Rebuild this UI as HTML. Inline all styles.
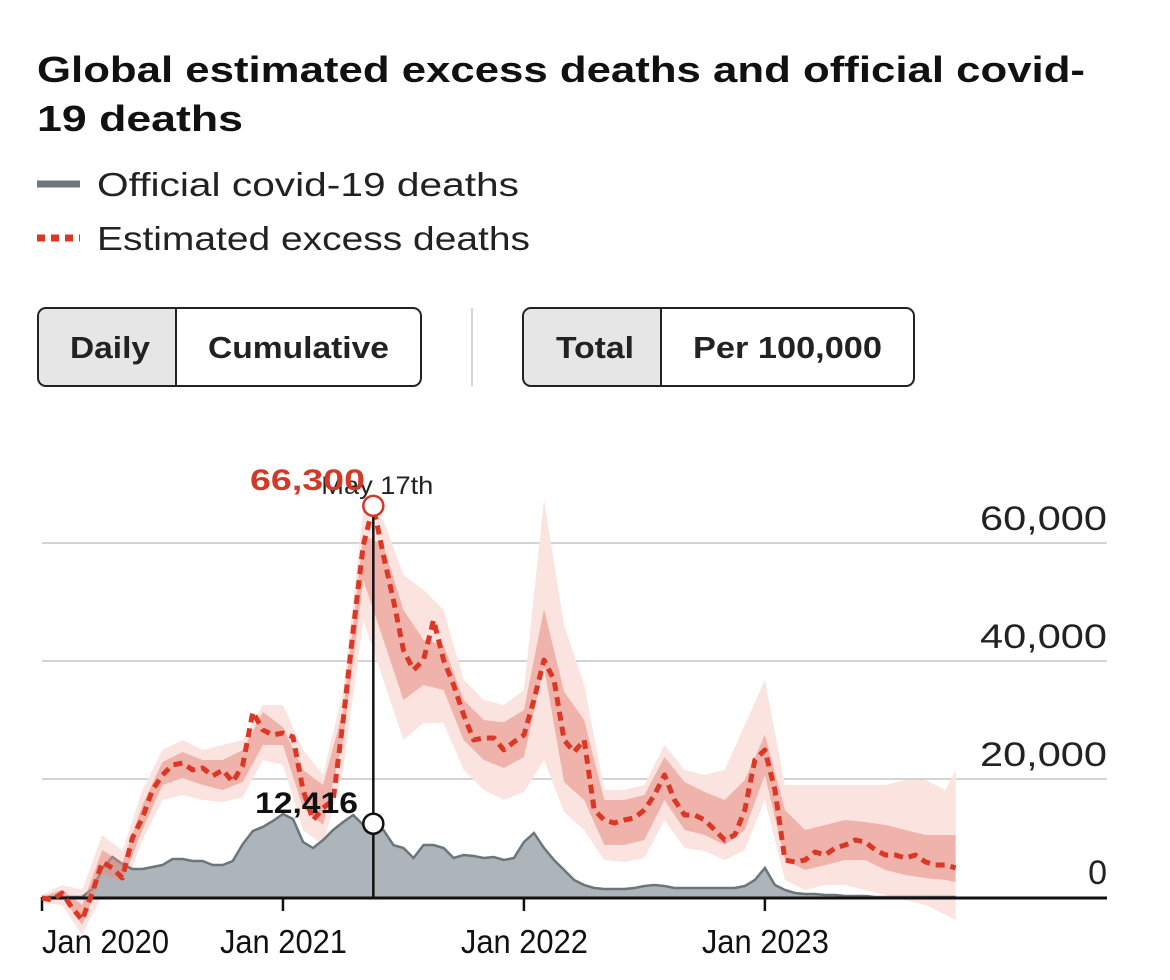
<!DOCTYPE html>
<html><head><meta charset="utf-8"><style>
html,body{margin:0;padding:0;background:#fff}
svg{display:block;font-family:"Liberation Sans",sans-serif}
</style></head><body>
<svg id="chart" width="1170" height="980" viewBox="0 0 1170 980">
<g>
<text x="37" y="82" font-size="36" font-weight="bold" fill="#111" textLength="1048" lengthAdjust="spacingAndGlyphs">Global estimated excess deaths and official covid-</text>
<text x="37" y="131" font-size="36" font-weight="bold" fill="#111" textLength="206" lengthAdjust="spacingAndGlyphs">19 deaths</text>
<line x1="37" y1="184" x2="80" y2="184" stroke="#6f777d" stroke-width="7"/>
<text x="97" y="196" font-size="33" fill="#222" textLength="422" lengthAdjust="spacingAndGlyphs">Official covid-19 deaths</text>
<line x1="37" y1="238" x2="80" y2="238" stroke="#db3725" stroke-width="7" stroke-dasharray="8,6"/>
<text x="97" y="250" font-size="33" fill="#222" textLength="433" lengthAdjust="spacingAndGlyphs">Estimated excess deaths</text>
</g>
<g>
<path d="M46 309 H176 V385 H46 A7 7 0 0 1 39 378 V316 A7 7 0 0 1 46 309 Z" fill="#e6e6e6"/>
<line x1="176" y1="308" x2="176" y2="386" stroke="#222" stroke-width="2"/>
<rect x="38" y="308" width="383" height="78" rx="8" fill="none" stroke="#222" stroke-width="2"/>
<text x="70" y="358" font-size="31" font-weight="bold" fill="#222" textLength="80" lengthAdjust="spacingAndGlyphs">Daily</text>
<text x="208" y="358" font-size="31" font-weight="bold" fill="#222" textLength="181" lengthAdjust="spacingAndGlyphs">Cumulative</text>
</g>
<line x1="472" y1="308" x2="472" y2="386" stroke="#d6d6d6" stroke-width="2"/>
<g>
<path d="M531 309 H661 V385 H531 A7 7 0 0 1 524 378 V316 A7 7 0 0 1 531 309 Z" fill="#e6e6e6"/>
<line x1="661" y1="308" x2="661" y2="386" stroke="#222" stroke-width="2"/>
<rect x="523" y="308" width="391" height="78" rx="8" fill="none" stroke="#222" stroke-width="2"/>
<text x="556" y="358" font-size="31" font-weight="bold" fill="#222" textLength="78" lengthAdjust="spacingAndGlyphs">Total</text>
<text x="693" y="358" font-size="31" font-weight="bold" fill="#222" textLength="189" lengthAdjust="spacingAndGlyphs">Per 100,000</text>
</g>
<g id="plot"></g>
</svg>
<script>
// months since Jan 2020
const bandMonths = [0,1,2,3,4,5,6,7,8,9,10,11,12,13,14,15,16,17,18,19,20,21,22,23,24,25,26,27,28,29,30,31,32,33,34,35,36,37,38,39,40,41,42,43,44,45,45.5];
const upper95 = [340,2030,1190,10510,7800,18140,24920,26620,24920,25770,26620,32550,32550,24920,20680,35090,65600,63900,54580,52040,48650,36780,33390,32550,35090,67300,46100,35940,18140,18140,18990,25770,21530,20680,21530,29160,36780,18990,18990,18990,18990,18990,18990,19830,19830,18140,21530];
const upper50 = [0,1190,-1360,7970,5760,15600,22880,24580,23220,23220,24920,31360,28800,21530,18990,31700,61350,59660,48650,43570,42720,33390,29990,29610,31700,48800,34780,29990,16440,16440,17290,23730,19490,17800,16440,19830,27460,14750,11360,12200,13050,12710,12200,11360,10510,10510,10510];
const lower50 = [-510,0,-4750,3730,2710,11360,18990,20170,18990,18140,19490,25770,25770,15090,12200,26620,53740,43570,33390,35940,35090,26620,23220,21870,23730,39000,19490,16440,8810,8810,9660,16440,11360,10510,8810,11360,20680,6270,4580,5420,6270,6270,4580,3730,3220,2880,2540];
const lower95 = [-1020,-1360,-6440,340,340,9660,16440,17290,16440,16100,16950,23220,22370,11360,8810,21530,46950,36780,26620,29490,29490,21530,18140,16440,17800,23220,14410,11360,6270,5930,6610,13050,8300,7800,6270,7970,16440,2880,1190,2030,2030,1190,340,-510,-1360,-3050,-3900];

const halfMonths = [];
for (let i = 0; i < 92; i++) halfMonths.push(i * 0.5);
const excessDeaths = [-170,-510,680,-1860,-3900,680,5930,4920,3220,10000,13390,18140,20680,22370,22710,21530,21870,20510,21530,19490,22370,31360,28300,27460,27800,27120,18140,13050,15090,16440,30000,45260,59660,66300,57970,50340,41860,38470,40170,46950,40170,35940,30850,26620,26950,26950,24920,26280,27460,33390,40170,36780,26620,24580,26620,14750,13050,12540,13050,13390,14750,17290,20680,16440,13900,13900,13050,11360,9660,10510,14750,23220,24920,18140,6270,5930,6270,7630,7120,8300,8810,9660,9320,7970,7120,7120,6610,7120,5930,5420,5420,4920];
const officialDeaths = [0,0,0,0,0,1360,4750,6780,5590,4750,4750,5090,5420,6440,6440,6100,6100,5420,5420,6100,8980,11190,11870,12880,14070,13220,9320,8300,9660,11360,12710,13900,12200,12416,11360,8810,8300,6610,8810,8810,8300,6610,7120,6950,6610,6780,6270,6610,9320,10850,8300,6270,4580,2880,2030,1530,1360,1360,1360,1530,1860,2030,1860,1530,1530,1530,1530,1530,1530,1530,1860,2880,4920,2030,1190,680,510,510,340,340,170,170,170,0,0,0,0,0,0,0,0,0];
const yTicks = [0,20000,40000,60000];
const yTickLabels = ["0","20,000","40,000","60,000"];
const xTicks = [0,12,24,36];
const xTickLabels = ["Jan 2020","Jan 2021","Jan 2022","Jan 2023"];
const peakMonth = 16.5, peakValue = 66300, peakLabel = "66,300", peakDate = "May 17th";
const officialAtPeak = 12416, officialLabel = "12,416";

const NS = "http://www.w3.org/2000/svg";
const x = m => 42 + m * 20.08;
const y = v => 897 - v / 20000 * 118;
const plot = document.getElementById('plot');
function mk(tag, attrs, parent) {
  const e = document.createElementNS(NS, tag);
  for (const k in attrs) e.setAttribute(k, attrs[k]);
  (parent || plot).appendChild(e);
  return e;
}
yTicks.forEach((v, i) => {
  if (v !== 0) {
    const g = mk('line', {x1: 42, x2: 1107, y1: y(v), y2: y(v), stroke: '#d4d4d4', 'stroke-width': 2});
    
    
  }
  const lab = yTickLabels[i];
  const attrs = {x: 1107, y: y(v) - 13, 'text-anchor': 'end', 'font-size': 34, fill: '#222'};
  if (lab.length > 1) { attrs.textLength = 127; attrs.lengthAdjust = 'spacingAndGlyphs'; }
  const t = mk('text', attrs);
  t.textContent = lab;
  
  
});
function band(up, lo, fill, name) {
  let d = '';
  bandMonths.forEach((m, i) => { d += (i ? 'L' : 'M') + x(m) + ' ' + y(up[i]); });
  for (let i = bandMonths.length - 1; i >= 0; i--) d += 'L' + x(bandMonths[i]) + ' ' + y(lo[i]);
  const p = mk('path', {d: d + 'Z', fill: fill});
  
  
}
band(upper95, lower95, '#fbe3df', 'excess-band-95');
let da = 'M' + x(halfMonths[0]) + ' ' + y(0);
halfMonths.forEach((m, i) => { da += 'L' + x(m) + ' ' + y(officialDeaths[i]); });
da += 'L' + x(halfMonths[halfMonths.length - 1]) + ' ' + y(0) + 'Z';
const area = mk('path', {d: da, fill: '#aeb5ba', stroke: 'none'});


let dl = '';
halfMonths.forEach((m, i) => { dl += (i ? 'L' : 'M') + x(m) + ' ' + y(officialDeaths[i]); });
const ol = mk('path', {d: dl, fill: 'none', stroke: '#6b757c', 'stroke-width': 2.5});


band(upper50, lower50, 'rgba(232,140,128,0.55)', 'excess-band-50');
const ax = mk('line', {x1: 42, x2: 1107, y1: y(0) + 1, y2: y(0) + 1, stroke: '#111', 'stroke-width': 3});


xTicks.forEach((m, i) => {
  const tk = mk('line', {x1: x(m), x2: x(m), y1: y(0), y2: y(0) + 14, stroke: '#111', 'stroke-width': 2.5});
  
  
  const left = Math.max(42, x(m) - 63);
  const t = mk('text', {x: left, y: 953, 'font-size': 33, fill: '#111', textLength: 127, lengthAdjust: 'spacingAndGlyphs'});
  t.textContent = xTickLabels[i];
  
  
});
let de = '';
halfMonths.forEach((m, i) => { de += (i ? 'L' : 'M') + x(m) + ' ' + y(excessDeaths[i]); });
const el = mk('path', {d: de, fill: 'none', stroke: '#db3725', 'stroke-width': 5, 'stroke-dasharray': '9,6', 'stroke-linejoin': 'round'});


const vl = mk('line', {x1: x(peakMonth), x2: x(peakMonth), y1: y(peakValue) + 10, y2: y(0), stroke: '#111', 'stroke-width': 2.5});


const dt = mk('text', {x: x(peakMonth) - 52, y: 494, 'font-size': 25, fill: '#222', textLength: 112, lengthAdjust: 'spacingAndGlyphs'});
dt.textContent = peakDate;


const pl = mk('text', {x: 250, y: 490, 'font-size': 30, 'font-weight': 'bold', fill: '#d13a27', textLength: 115, lengthAdjust: 'spacingAndGlyphs'});
pl.textContent = peakLabel;


const pc = mk('circle', {cx: x(peakMonth), cy: y(peakValue), r: 10, fill: '#fff', stroke: '#d13a27', 'stroke-width': 2.5});


const ot = mk('text', {x: 255, y: 813, 'font-size': 30, 'font-weight': 'bold', fill: '#111', textLength: 103, lengthAdjust: 'spacingAndGlyphs'});
ot.textContent = officialLabel;


const oc = mk('circle', {cx: x(peakMonth), cy: y(officialAtPeak), r: 10, fill: '#fff', stroke: '#111', 'stroke-width': 2.5});


</script>
</body></html>
